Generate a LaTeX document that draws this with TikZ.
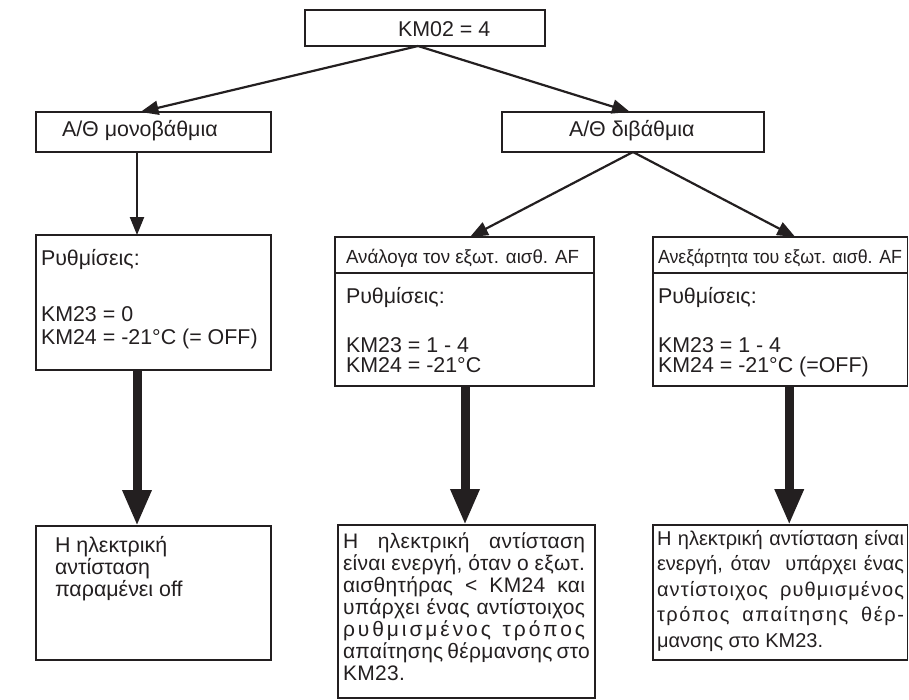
\documentclass[tikz,border=0pt]{standalone}
\usepackage{fontspec}
\setmainfont{Liberation Sans}
\usepackage{graphicx}
\usetikzlibrary{arrows.meta}
\definecolor{ink}{HTML}{231F20}
\newcommand{\jl}[2]{\makebox[#1][s]{#2}}
\begin{document}
\begin{tikzpicture}[x=1pt,y=-1pt,
  box/.style={draw=ink, line width=1.3pt, inner sep=0pt, outer sep=0pt, anchor=north west},
  txt/.style={anchor=base west, inner sep=0pt, outer sep=0pt, text=ink, font=\fontsize{21.4}{22}\selectfont},
  htxt/.style={anchor=base west, inner sep=0pt, outer sep=0pt, text=ink, font=\fontsize{19}{22}\selectfont},
  mtxt/.style={anchor=base west, inner sep=0pt, outer sep=0pt, text=ink, font=\fontsize{21}{22}\selectfont\addfontfeature{LetterSpace=1.5}},
  ntxt/.style={anchor=base west, inner sep=0pt, outer sep=0pt, text=ink, font=\fontsize{20}{22}\selectfont},
  thinarrow/.style={draw=ink, line width=2.2pt, -{Triangle[length=18pt,width=14pt]}},
  thickarrow/.style={draw=ink, line width=9pt, -{Triangle[length=36pt,width=27pt]}}]
\useasboundingbox (0,0) rectangle (909,699);

% boxes
\node[box, minimum width=240pt, minimum height=36pt] (top) at (305,10) {};
\node[box, minimum width=235pt, minimum height=40pt] (A) at (36,112) {};
\node[box, minimum width=262pt, minimum height=40pt] (B) at (502,112) {};
\node[box, minimum width=235pt, minimum height=135pt] (S1) at (36,235) {};
\node[box, minimum width=259pt, minimum height=36pt] (H2) at (335,237) {};
\node[box, minimum width=259pt, minimum height=113pt] (S2) at (335,273) {};
\node[box, minimum width=254.5pt, minimum height=36pt] (H3) at (653,237) {};
\node[box, minimum width=254.5pt, minimum height=113pt] (S3) at (653,273) {};
\node[box, minimum width=235pt, minimum height=134pt] (R1) at (36,526) {};
\node[box, minimum width=257pt, minimum height=173pt] (R2) at (338,525) {};
\node[box, minimum width=254.5pt, minimum height=135pt] (R3) at (653,525) {};

% texts
\node[txt] (ttop) at (398,36.5) {KM02 = 4};
\node[txt] (tA) at (62,136) {Α/Θ μονοβάθμια};
\node[txt] (tB) at (569,136) {Α/Θ διβάθμια};

\node[txt] (s1a) at (41,265) {Ρυθμίσεις:};
\node[txt] (s1b) at (41,321) {KM23 = 0};
\node[txt] (s1c) at (41,344) {KM24 = -21°C (= OFF)};

\node[htxt] (h2) at (346,263) {\resizebox{233pt}{\height}{Ανάλογα τον εξωτ. αισθ. AF}};
\node[txt] (s2a) at (346,303) {Ρυθμίσεις:};
\node[txt] (s2b) at (346,352) {KM23 = 1 - 4};
\node[txt] (s2c) at (346,372) {KM24 = -21°C};

\node[htxt] (h3) at (658,263) {\resizebox{244pt}{\height}{Ανεξάρτητα του εξωτ. αισθ. AF}};
\node[txt] (s3a) at (658,303) {Ρυθμίσεις:};
\node[txt] (s3b) at (658,352) {KM23 = 1 - 4};
\node[txt] (s3c) at (658,372) {KM24 = -21°C (=OFF)};

\node[txt] (r1a) at (55,552) {Η ηλεκτρική};
\node[txt] (r1b) at (55,574) {αντίσταση};
\node[txt] (r1c) at (55,596) {παραμένει off};

\node[mtxt] (r2a) at (343,548) {\jl{242pt}{Η ηλεκτρική αντίσταση}};
\node[mtxt] (r2b) at (343,570) {\jl{242pt}{είναι ενεργή, όταν ο εξωτ.}};
\node[mtxt] (r2c) at (343,592) {\jl{242pt}{αισθητήρας < KM24 και}};
\node[mtxt] (r2d) at (343,614) {\jl{242pt}{υπάρχει ένας αντίστοιχος}};
\node[mtxt] (r2e) at (343,636) {\jl{242pt}{\addfontfeature{LetterSpace=14}ρυθμισμένος τρόπος}};
\node[mtxt] (r2f) at (343,658) {\jl{242pt}{απαίτησης θέρμανσης στο}};
\node[mtxt] (r2g) at (343,680) {KM23.};

\node[ntxt] (r3a) at (657,545) {\jl{247pt}{Η ηλεκτρική αντίσταση είναι}};
\node[ntxt] (r3b) at (657,570.5) {\jl{247pt}{ενεργή, όταν \ υπάρχει ένας}};
\node[ntxt] (r3c) at (657,596) {\jl{247pt}{\addfontfeature{LetterSpace=5.5}αντίστοιχος ρυθμισμένος}};
\node[ntxt] (r3d) at (657,621.5) {\jl{247pt}{\addfontfeature{LetterSpace=8}τρόπος απαίτησης θέρ-}};
\node[ntxt] (r3e) at (657,647) {μανσης στο KM23.};

% connectors
\draw[thinarrow] ([xshift=-7pt]top.south) -- ([xshift=-13pt]A.north);
\draw[thinarrow] ([xshift=-7pt]top.south) -- ([xshift=-3pt]B.north);
\draw[thinarrow] ([xshift=-16.5pt]A.south) -- ([xshift=-16.5pt]S1.north);
\draw[thinarrow] (B.south) -- ([xshift=5.5pt]H2.north);
\draw[thinarrow] (B.south) -- ([xshift=15pt]H3.north);
\draw[thickarrow] ([xshift=-16.5pt]S1.south) -- ([xshift=-16.5pt]R1.north);
\draw[thickarrow] ([xshift=0.5pt]S2.south) -- ([xshift=-1.5pt]R2.north);
\draw[thickarrow] ([xshift=9pt]S3.south) -- ([xshift=9pt]R3.north);
\end{tikzpicture}
\end{document}
